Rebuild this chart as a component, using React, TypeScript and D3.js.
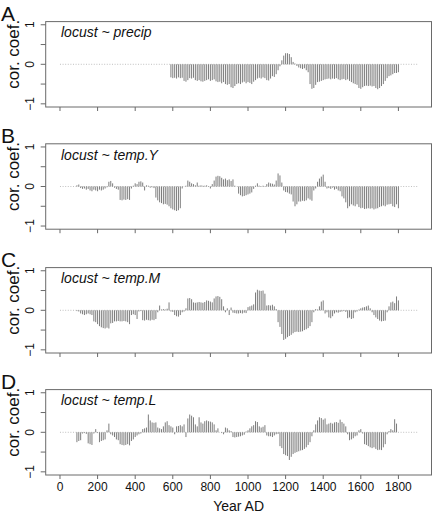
import React from "react";
import * as d3 from "d3";

// ---- data (correlation coefficients, 10-year steps) ----
const panelLetters = ["A", "B", "C", "D"];
const panelTitles = ["locust ~ precip", "locust ~ temp.Y", "locust ~ temp.M", "locust ~ temp.L"];
const startYears = [590, 90, 90, 90];
const xTicks = [0, 200, 400, 600, 800, 1000, 1200, 1400, 1600, 1800];
const yTicks = [-1, -0.5, 0, 0.5, 1];
const yLabels = [-1, 0, 1];

const precip = [
  -0.33, -0.35, -0.34, -0.36, -0.33, -0.35, -0.34, -0.42, -0.44, -0.40,
  -0.35, -0.36, -0.34, -0.40, -0.42, -0.40, -0.43, -0.44, -0.42, -0.40,
  -0.38, -0.42, -0.40, -0.38, -0.43, -0.45, -0.44, -0.48, -0.45, -0.50,
  -0.52, -0.50, -0.58, -0.60, -0.55, -0.50, -0.48, -0.50, -0.46, -0.44,
  -0.48, -0.45, -0.47, -0.50, -0.44, -0.40, -0.36, -0.34, -0.36, -0.33,
  -0.35, -0.40, -0.41, -0.36, -0.30, -0.32, -0.25, -0.15, -0.05, 0.10,
  0.22, 0.28, 0.28, 0.26, 0.18, 0.06, 0.02, -0.04, -0.08, -0.10,
  -0.12, -0.10, -0.15, -0.20, -0.50, -0.62, -0.60, -0.52, -0.45, -0.44,
  -0.42, -0.40, -0.38, -0.37, -0.36, -0.38, -0.36, -0.37, -0.35, -0.38,
  -0.40, -0.38, -0.37, -0.40, -0.38, -0.42, -0.45, -0.48, -0.50, -0.52,
  -0.60, -0.62, -0.58, -0.55, -0.54, -0.55, -0.54, -0.56, -0.55, -0.60,
  -0.63, -0.60, -0.55, -0.50, -0.42, -0.35, -0.30, -0.28, -0.25, -0.22,
  -0.22, -0.20,
];

const tempY = [
  0.03, 0.05, -0.04, -0.06, -0.05, -0.08, -0.06, -0.10, -0.12, -0.08,
  -0.10, -0.12, -0.08, -0.10, -0.08, -0.05, -0.02, 0.12, 0.14, 0.08,
  -0.03, -0.06, -0.08, -0.34, -0.35, -0.33, -0.34, -0.32, -0.34, -0.05,
  0.02, 0.08, 0.06, 0.12, 0.13, 0.10, -0.10, 0.03, 0.02, -0.03,
  -0.02, -0.04, -0.28, -0.35, -0.40, -0.42, -0.45, -0.44, -0.46, -0.50,
  -0.55, -0.58, -0.60, -0.62, -0.60, -0.55, -0.05, 0.00, 0.02, 0.15,
  0.12, 0.08, 0.06, 0.03, 0.10, 0.02, 0.03, 0.02, 0.02, 0.03,
  0.01, -0.05, 0.06, 0.15, 0.25, 0.27, 0.26, 0.22, 0.18, 0.20,
  0.16, 0.18, 0.14, 0.18, 0.02, 0.00, -0.18, -0.22, -0.25, -0.24,
  -0.22, -0.20, -0.18, -0.15, -0.06, 0.02, 0.08, 0.02, 0.01, 0.02,
  0.01, 0.06, 0.10, 0.08, 0.07, 0.05, 0.15, 0.33, 0.28, 0.10,
  -0.10, -0.14, -0.15, -0.18, -0.20, -0.38, -0.50, -0.45, -0.38, -0.38,
  -0.36, -0.37, -0.35, -0.30, -0.33, -0.36, -0.10, -0.05, 0.12, 0.20,
  0.25, 0.30, 0.12, -0.05, -0.04, -0.06, -0.03, -0.08, -0.06, -0.10,
  -0.12, -0.25, -0.30, -0.40, -0.55, -0.50, -0.45, -0.48, -0.50, -0.45,
  -0.52, -0.55, -0.54, -0.57, -0.56, -0.55, -0.56, -0.55, -0.58, -0.56,
  -0.55, -0.52, -0.50, -0.48, -0.50, -0.46, -0.45, -0.44, -0.50, -0.52,
  -0.45, -0.55,
];

const tempM = [
  -0.02, -0.03, -0.08, -0.10, -0.12, -0.10, -0.08, -0.10, -0.12, -0.28,
  -0.30, -0.35, -0.40, -0.43, -0.45, -0.46, -0.44, -0.46, -0.33, -0.32,
  -0.28, -0.28, -0.27, -0.28, -0.28, -0.27, -0.28, -0.30, -0.35, -0.12,
  -0.10, -0.12, -0.22, -0.03, -0.02, -0.25, -0.26, -0.24, -0.25, -0.26,
  -0.24, -0.25, -0.22, -0.05, 0.12, 0.02, 0.03, 0.02, 0.04, 0.20,
  -0.03, -0.04, -0.12, -0.15, -0.16, -0.12, -0.05, -0.03, 0.05, 0.30,
  0.31, 0.28, 0.20, 0.19, 0.20, 0.21, 0.20, 0.19, 0.21, 0.25,
  0.24, 0.22, 0.20, 0.30, 0.35, 0.36, 0.34, 0.28, 0.10, -0.05,
  0.05, -0.12, 0.07, -0.06, -0.07, -0.08, -0.08, -0.07, -0.08, -0.06,
  -0.07, 0.08, 0.10, 0.12, 0.15, 0.45, 0.52, 0.50, 0.49, 0.50,
  0.42, 0.12, 0.13, 0.12, 0.14, 0.10, 0.03, -0.30, -0.42, -0.60,
  -0.75, -0.72, -0.68, -0.65, -0.62, -0.58, -0.55, -0.54, -0.55, -0.54,
  -0.53, -0.50, -0.48, -0.45, -0.40, -0.30, -0.05, 0.03, 0.02, 0.10,
  0.22, 0.25, -0.08, -0.05, -0.18, -0.20, -0.15, -0.08, -0.05, -0.06,
  -0.04, -0.03, -0.02, -0.04, -0.20, -0.18, -0.22, -0.20, -0.05, -0.03,
  0.02, 0.05, 0.07, 0.08, 0.10, 0.12, 0.05, -0.05, -0.12, -0.18,
  -0.22, -0.26, -0.28, -0.27, -0.26, -0.05, 0.10, 0.20, 0.22, 0.18,
  0.35, 0.25,
];

const tempL = [
  -0.25, -0.22, -0.20, -0.03, -0.02, -0.04, -0.28, -0.30, -0.32, -0.03,
  0.08, -0.02, -0.25, -0.22, -0.20, -0.18, 0.05, 0.22, -0.05, -0.08,
  -0.12, -0.18, -0.20, -0.30, -0.32, -0.33, -0.32, -0.30, -0.33, -0.22,
  -0.18, -0.12, -0.08, -0.05, -0.03, 0.08, 0.10, 0.12, 0.45, 0.30,
  0.25, 0.24, 0.25, 0.12, 0.10, 0.08, 0.15, 0.25, 0.28, 0.18,
  0.15, 0.12, -0.05, 0.15, 0.16, 0.18, 0.15, 0.20, -0.12, 0.35,
  0.45, 0.42, 0.38, 0.20, 0.15, 0.38, 0.25, 0.22, 0.28, 0.30,
  0.28, 0.27, 0.25, 0.20, 0.05, 0.10, 0.00, -0.02, -0.05, 0.12,
  0.10, 0.05, 0.03, -0.12, -0.13, -0.12, -0.11, -0.10, -0.08, -0.06,
  0.02, 0.05, 0.10, 0.15, 0.18, 0.28, 0.26, 0.15, 0.12, 0.14,
  0.18, -0.08, -0.10, -0.10, -0.12, -0.08, -0.05, -0.04, -0.35, -0.40,
  -0.55, -0.58, -0.60, -0.70, -0.62, -0.55, -0.52, -0.50, -0.48, -0.46,
  -0.45, -0.42, -0.38, -0.32, -0.25, -0.10, 0.05, 0.20, 0.30, 0.38,
  0.36, 0.32, 0.35, 0.20, 0.22, 0.24, 0.22, 0.25, 0.26, 0.24,
  0.32, 0.26, 0.22, 0.15, -0.05, -0.20, -0.18, -0.15, -0.10, -0.08,
  0.05, 0.08, -0.03, -0.30, -0.32, -0.35, -0.38, -0.40, -0.38, -0.42,
  -0.45, -0.44, -0.45, -0.38, -0.30, -0.05, 0.03, 0.08, 0.05, 0.33,
  0.22,
];

const seriesList = [precip, tempY, tempM, tempL];

// ---- layout ----
const W = 432;
const H = 514;
const zeroYs = [64.3, 186.5, 310.3, 432.3];
const halfH = 42.7;
const FONT = "'Liberation Sans', Arial, Helvetica, sans-serif";

const xScale = d3.scaleLinear().domain([-76, 1976]).range([45.7, 431.5]);

function Panel({ idx }: { idx: number }) {
  const z = zeroYs[idx];
  const y = d3.scaleLinear().domain([-1.08, 1.08]).range([z + halfH, z - halfH]);
  const vals = seriesList[idx];
  const start = startYears[idx];
  const data = vals.map((v, i) => ({ year: start + i * 10, v }));
  const x0 = xScale(-76);
  const x1 = xScale(1976);
  const yTop = y(1.08);
  const yBot = y(-1.08);
  const isLast = idx === 3;
  return (
    <g>
      <text x={1} y={z - 43.5} fontFamily={FONT} fontSize={21} fill="#111">
        {panelLetters[idx]}
      </text>
      <line
        x1={xScale(0)}
        x2={xScale(1900)}
        y1={y(0)}
        y2={y(0)}
        stroke="#b0b0b0"
        strokeWidth={0.8}
        strokeDasharray="1,1.6"
      />
      {data.map((d) => (
        <line
          key={d.year}
          x1={xScale(d.year)}
          x2={xScale(d.year)}
          y1={y(0)}
          y2={y(d.v)}
          stroke="#6e6e6e"
          strokeWidth={0.9}
        />
      ))}
      <rect x={x0} y={yTop} width={x1 - x0} height={yBot - yTop} fill="none" stroke="#6a6a6a" strokeWidth={1} />
      {xTicks.map((t) => (
        <line key={t} x1={xScale(t)} x2={xScale(t)} y1={yBot} y2={yBot + 4} stroke="#6a6a6a" strokeWidth={1} />
      ))}
      {yTicks.map((t) => (
        <line key={t} x1={x0 - 5} x2={x0} y1={y(t)} y2={y(t)} stroke="#6a6a6a" strokeWidth={1} />
      ))}
      {yLabels.map((t) => (
        <text
          key={t}
          transform={`translate(33.5,${y(t)}) rotate(-90)`}
          textAnchor="middle"
          fontFamily={FONT}
          fontSize={12}
          fill="#111"
        >
          {t < 0 ? "\u2212" + Math.abs(t) : String(t)}
        </text>
      ))}
      <text
        transform={`translate(18.5,${z - 10}) rotate(-90)`}
        textAnchor="middle"
        fontFamily={FONT}
        fontSize={17}
        fill="#111"
      >
        cor. coef.
      </text>
      <text x={61} y={z - 27} fontFamily={FONT} fontSize={14} fontStyle="italic" fill="#111">
        {panelTitles[idx]}
      </text>
      {isLast &&
        xTicks.map((t) => (
          <text key={t} x={xScale(t)} y={491} textAnchor="middle" fontFamily={FONT} fontSize={12} fill="#111">
            {t}
          </text>
        ))}
      {isLast && (
        <text x={xScale(950)} y={511} textAnchor="middle" fontFamily={FONT} fontSize={14} fill="#111">
          Year AD
        </text>
      )}
    </g>
  );
}

export default function App() {
  return (
    <svg
      width={W}
      height={H}
      style={{ position: "absolute", left: 0, top: 0, background: "#fff" }}
    >
      <rect x={0} y={0} width={W} height={H} fill="#fff" />
      {[0, 1, 2, 3].map((i) => (
        <Panel key={i} idx={i} />
      ))}
    </svg>
  );
}
